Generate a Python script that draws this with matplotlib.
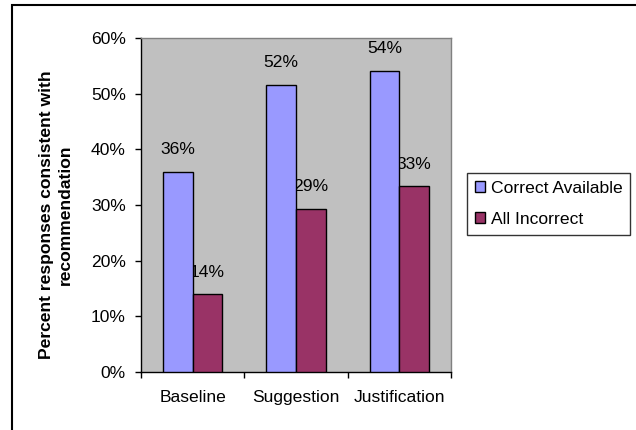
import matplotlib.pyplot as plt
from matplotlib.patches import Rectangle
from matplotlib.ticker import FuncFormatter
import numpy as np

plt.rcParams['font.family'] = ['Liberation Sans', 'DejaVu Sans']

# donnees
conditions = ['Baseline', 'Suggestion', 'Justification']
correct_available = [0.36, 0.516, 0.541]
all_incorrect = [0.14, 0.293, 0.334]
series_names = ['Correct Available', 'All Incorrect']

FS = 12.6
W, H = 636, 430
fig = plt.figure(figsize=(W / 100, H / 100), dpi=100)

# cadre du graphique (droite et bas hors image)
fig.patches.append(Rectangle((12 / W, -0.1), 1.2, 1 - 5 / H + 0.1,
                             transform=fig.transFigure, fill=False,
                             edgecolor='black', linewidth=1.5))

ax = fig.add_axes([141 / W, 1 - 372 / H, 310 / W, 334 / H])
ax.set_facecolor('#C0C0C0')

x = np.arange(len(conditions))
w = 0.286
b1 = ax.bar(x - w / 2, correct_available, w, color='#9999FF', edgecolor='black',
            linewidth=1, label=series_names[0], zorder=3)
b2 = ax.bar(x + w / 2, all_incorrect, w, color='#993366', edgecolor='black',
            linewidth=1, label=series_names[1], zorder=3)

# etiquettes de valeur au-dessus des barres
for bars in (b1, b2):
    for r in bars:
        v = r.get_height()
        ax.annotate(f'{v:.0%}', (r.get_x() + r.get_width() / 2, v),
                    xytext=(0, 22), textcoords='offset pixels',
                    ha='center', va='center', fontsize=FS, zorder=2)

ax.set_ylim(0, 0.6)
ax.set_xlim(-0.5, 2.5)
ax.set_yticks(np.arange(0, 0.61, 0.1))
ax.yaxis.set_major_formatter(FuncFormatter(lambda v, p: f'{v:.0%}'))
ax.tick_params(axis='y', direction='out', length=4, width=1, pad=7, labelsize=FS)

# graduations x entre les categories, libelles au centre
ax.set_xticks([-0.5, 0.5, 1.5, 2.5])
ax.set_xticklabels([])
ax.set_xticks(x, minor=True)
ax.set_xticklabels(conditions, minor=True, fontsize=FS)
ax.tick_params(axis='x', which='major', direction='out', length=4, width=1)
ax.tick_params(axis='x', which='minor', length=0, pad=13)

for s in ('top', 'right'):
    ax.spines[s].set_color('#808080')
    ax.spines[s].set_linewidth(1)
for s in ('left', 'bottom'):
    ax.spines[s].set_color('black')
    ax.spines[s].set_linewidth(1)

fig.text(56 / W, 1 - 215 / H, 'Percent responses consistent with\nrecommendation',
         rotation=90, ha='center', va='center', fontsize=FS, fontweight='bold',
         linespacing=1.25)

leg = ax.legend(loc='upper left', bbox_to_anchor=(467 / W, 1 - 173 / H),
                bbox_transform=fig.transFigure, frameon=True, fancybox=False,
                edgecolor='black', fontsize=FS, handlelength=0.55, handleheight=0.55,
                handletextpad=0.35, labelspacing=0.9, borderpad=0.45,
                borderaxespad=0)
leg.get_frame().set_linewidth(1)

fig.savefig('out.png', dpi=100)
